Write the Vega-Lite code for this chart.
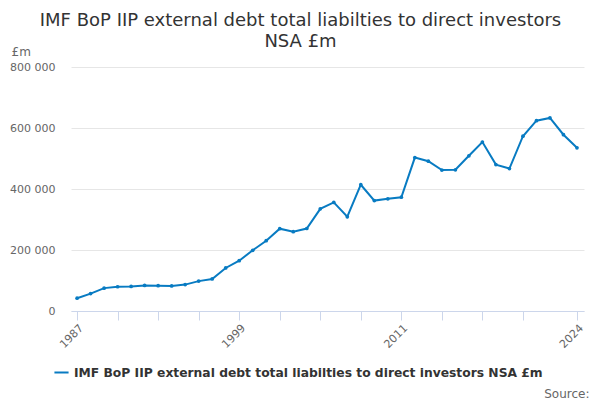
{
  "$schema": "https://vega.github.io/schema/vega-lite/v6.json",
  "autosize": "none",
  "width": 513,
  "height": 244,
  "padding": {"left": 71, "top": 67, "right": 16, "bottom": 89},
  "background": "white",
  "title": {
    "text": ["IMF BoP IIP external debt total liabilties to direct investors", "NSA £m"],
    "anchor": "middle",
    "dx": -27,
    "dy": 14,
    "fontSize": 18,
    "fontWeight": "normal",
    "font": "DejaVu Sans",
    "color": "#333333",
    "lineHeight": 21,
    "offset": 8
  },
  "data": {
    "values": [
      {"year": 1987, "value": 42000, "series": "IMF BoP IIP external debt total liabilties to direct investors NSA £m"},
      {"year": 1988, "value": 57000, "series": "IMF BoP IIP external debt total liabilties to direct investors NSA £m"},
      {"year": 1989, "value": 75000, "series": "IMF BoP IIP external debt total liabilties to direct investors NSA £m"},
      {"year": 1990, "value": 79500, "series": "IMF BoP IIP external debt total liabilties to direct investors NSA £m"},
      {"year": 1991, "value": 80500, "series": "IMF BoP IIP external debt total liabilties to direct investors NSA £m"},
      {"year": 1992, "value": 84000, "series": "IMF BoP IIP external debt total liabilties to direct investors NSA £m"},
      {"year": 1993, "value": 83000, "series": "IMF BoP IIP external debt total liabilties to direct investors NSA £m"},
      {"year": 1994, "value": 82000, "series": "IMF BoP IIP external debt total liabilties to direct investors NSA £m"},
      {"year": 1995, "value": 86500, "series": "IMF BoP IIP external debt total liabilties to direct investors NSA £m"},
      {"year": 1996, "value": 98000, "series": "IMF BoP IIP external debt total liabilties to direct investors NSA £m"},
      {"year": 1997, "value": 105000, "series": "IMF BoP IIP external debt total liabilties to direct investors NSA £m"},
      {"year": 1998, "value": 141000, "series": "IMF BoP IIP external debt total liabilties to direct investors NSA £m"},
      {"year": 1999, "value": 165000, "series": "IMF BoP IIP external debt total liabilties to direct investors NSA £m"},
      {"year": 2000, "value": 199000, "series": "IMF BoP IIP external debt total liabilties to direct investors NSA £m"},
      {"year": 2001, "value": 230500, "series": "IMF BoP IIP external debt total liabilties to direct investors NSA £m"},
      {"year": 2002, "value": 270000, "series": "IMF BoP IIP external debt total liabilties to direct investors NSA £m"},
      {"year": 2003, "value": 260000, "series": "IMF BoP IIP external debt total liabilties to direct investors NSA £m"},
      {"year": 2004, "value": 270500, "series": "IMF BoP IIP external debt total liabilties to direct investors NSA £m"},
      {"year": 2005, "value": 335000, "series": "IMF BoP IIP external debt total liabilties to direct investors NSA £m"},
      {"year": 2006, "value": 356000, "series": "IMF BoP IIP external debt total liabilties to direct investors NSA £m"},
      {"year": 2007, "value": 309000, "series": "IMF BoP IIP external debt total liabilties to direct investors NSA £m"},
      {"year": 2008, "value": 414000, "series": "IMF BoP IIP external debt total liabilties to direct investors NSA £m"},
      {"year": 2009, "value": 362000, "series": "IMF BoP IIP external debt total liabilties to direct investors NSA £m"},
      {"year": 2010, "value": 368000, "series": "IMF BoP IIP external debt total liabilties to direct investors NSA £m"},
      {"year": 2011, "value": 373000, "series": "IMF BoP IIP external debt total liabilties to direct investors NSA £m"},
      {"year": 2012, "value": 503000, "series": "IMF BoP IIP external debt total liabilties to direct investors NSA £m"},
      {"year": 2013, "value": 491000, "series": "IMF BoP IIP external debt total liabilties to direct investors NSA £m"},
      {"year": 2014, "value": 462000, "series": "IMF BoP IIP external debt total liabilties to direct investors NSA £m"},
      {"year": 2015, "value": 463000, "series": "IMF BoP IIP external debt total liabilties to direct investors NSA £m"},
      {"year": 2016, "value": 509000, "series": "IMF BoP IIP external debt total liabilties to direct investors NSA £m"},
      {"year": 2017, "value": 554000, "series": "IMF BoP IIP external debt total liabilties to direct investors NSA £m"},
      {"year": 2018, "value": 480000, "series": "IMF BoP IIP external debt total liabilties to direct investors NSA £m"},
      {"year": 2019, "value": 467000, "series": "IMF BoP IIP external debt total liabilties to direct investors NSA £m"},
      {"year": 2020, "value": 573000, "series": "IMF BoP IIP external debt total liabilties to direct investors NSA £m"},
      {"year": 2021, "value": 624000, "series": "IMF BoP IIP external debt total liabilties to direct investors NSA £m"},
      {"year": 2022, "value": 633000, "series": "IMF BoP IIP external debt total liabilties to direct investors NSA £m"},
      {"year": 2023, "value": 578000, "series": "IMF BoP IIP external debt total liabilties to direct investors NSA £m"},
      {"year": 2024, "value": 535000, "series": "IMF BoP IIP external debt total liabilties to direct investors NSA £m"}
    ]
  },
  "mark": {
    "type": "line",
    "strokeWidth": 2,
    "point": {"size": 14, "filled": true, "color": "#087bc2"}
  },
  "encoding": {
    "x": {
      "field": "year",
      "type": "quantitative",
      "scale": {"domain": [1986.55, 2024.52], "nice": false, "zero": false},
      "axis": {
        "title": "Source:",
        "titleAnchor": "end",
        "titleAlign": "right",
        "titleX": 518,
        "titleY": 77,
        "titleFontWeight": "normal",
        "titleFontSize": 12,
        "titleColor": "#666666",
        "values": [1987, 1990, 1993, 1996, 1999, 2002, 2005, 2008, 2011, 2014, 2017, 2020, 2024],
        "labelExpr": "indexof([1987, 1999, 2011, 2024], datum.value) >= 0 ? datum.value + '' : ''",
        "labelAngle": -45,
        "labelAlign": "right",
        "labelBaseline": "top",
        "labelPadding": 2,
        "labelFontSize": 11,
        "labelColor": "#666666",
        "labelOverlap": false,
        "grid": false,
        "domainColor": "#ccd6eb",
        "tickColor": "#ccd6eb",
        "tickSize": 9
      }
    },
    "y": {
      "field": "value",
      "type": "quantitative",
      "scale": {"domain": [0, 800000], "nice": false},
      "axis": {
        "title": "£m",
        "titleAngle": 0,
        "titleAlign": "left",
        "titleBaseline": "alphabetic",
        "titleX": -60,
        "titleY": -12,
        "titleFontWeight": "normal",
        "titleFontSize": 12,
        "titleColor": "#666666",
        "values": [0, 200000, 400000, 600000, 800000],
        "format": ",d",
        "labelFontSize": 11,
        "labelColor": "#666666",
        "labelPadding": 16,
        "domain": false,
        "ticks": false,
        "gridColor": "#e6e6e6"
      }
    },
    "color": {
      "field": "series",
      "type": "nominal",
      "scale": {"range": ["#087bc2"]},
      "legend": {
        "title": null,
        "orient": "none",
        "legendX": -18,
        "legendY": 297,
        "symbolType": "stroke",
        "symbolStrokeWidth": 2,
        "symbolSize": 200,
        "labelFontSize": 12.3,
        "labelFontWeight": "bold",
        "labelColor": "#333333",
        "labelLimit": 600
      }
    }
  },
  "config": {
    "font": "DejaVu Sans",
    "view": {"stroke": null},
    "locale": {
      "number": {"decimal": ".", "thousands": " ", "grouping": [3], "currency": ["£", ""]}
    }
  }
}
